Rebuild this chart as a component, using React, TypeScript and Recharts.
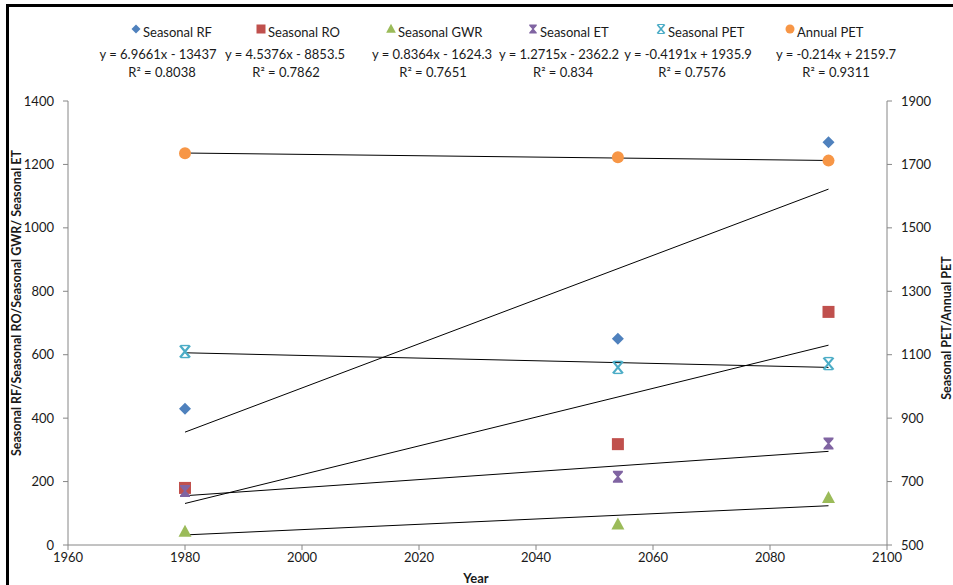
import React from "react";
import { ComposedChart, Line, Scatter, XAxis, YAxis } from "recharts";

// Period mid-years and the six series
const years = [1980, 2054, 2090];
const seasonalRF = [430, 650, 1270];
const seasonalRO = [180, 318, 735];
const seasonalGWR = [42, 65, 148];
const seasonalET = [170, 215, 320];
const seasonalPET = [1110, 1060, 1072];
const annualPET = [1735, 1723, 1712];

const seriesNames = [
  "Seasonal RF",
  "Seasonal RO",
  "Seasonal GWR",
  "Seasonal ET",
  "Seasonal PET",
  "Annual PET",
];
// Excel linear trendlines, as printed on the chart
const trendSlopes = [6.9661, 4.5376, 0.8364, 1.2715, -0.4191, -0.214];
const trendIntercepts = [-13437, -8853.5, -1624.3, -2362.2, 1935.9, 2159.7];
const equationLabels = [
  "y = 6.9661x - 13437",
  "y = 4.5376x - 8853.5",
  "y = 0.8364x - 1624.3",
  "y = 1.2715x - 2362.2",
  "y = -0.4191x + 1935.9",
  "y = -0.214x + 2159.7",
];
const r2Labels = ["0.8038", "0.7862", "0.7651", "0.834", "0.7576", "0.9311"];

const xTicks = [1960, 1980, 2000, 2020, 2040, 2060, 2080, 2100];
const leftTicks = [0, 200, 400, 600, 800, 1000, 1200, 1400];
const rightTicks = [500, 700, 900, 1100, 1300, 1500, 1700, 1900];

type MarkerKind = "diamond" | "square" | "triangle" | "hourglass" | "cross" | "circle";

const seriesValues = [seasonalRF, seasonalRO, seasonalGWR, seasonalET, seasonalPET, annualPET];
const seriesAxis = ["left", "left", "left", "left", "right", "right"];
const seriesColors = ["#4F81BD", "#C0504D", "#9BBB59", "#8064A2", "#4BACC6", "#F79646"];
const seriesMarkers: MarkerKind[] = ["diamond", "square", "triangle", "hourglass", "cross", "circle"];

// legend layout (px in the 953x585 frame)
const legendMarkerX = [136, 261, 391, 533, 661, 790];
const equationCenterX = [158, 285, 432, 559, 688, 836];
const r2CenterX = [162, 286, 433, 563, 692, 836];

const axisGrey = "#868686";
const textColor = "#1a1a1a";
const font = "Lato, 'Open Sans', sans-serif";

function Marker({ kind, cx, cy, color, s = 1 }: { kind: MarkerKind; cx: number; cy: number; color: string; s?: number }) {
  const p = (pts: number[][]) => pts.map(([x, y]) => `${cx + x * s},${cy + y * s}`).join(" ");
  switch (kind) {
    case "diamond":
      return <polygon points={p([[0, -6], [6, 0], [0, 6], [-6, 0]])} fill={color} />;
    case "square":
      return <rect x={cx - 6 * s} y={cy - 6 * s} width={12 * s} height={12 * s} fill={color} />;
    case "triangle":
      return <polygon points={p([[0, -7], [6.5, 5], [-6.5, 5]])} fill={color} />;
    case "hourglass":
      return (
        <polygon
          points={p([[-5, -6], [5, -6], [5, -4.5], [1, 0], [5, 4.5], [5, 6], [-5, 6], [-5, 4.5], [-1, 0], [-5, -4.5]])}
          fill={color}
        />
      );
    case "cross":
      return (
        <g stroke={color} strokeWidth={2.2 * s}>
          <line x1={cx - 5 * s} y1={cy - 6 * s} x2={cx + 5 * s} y2={cy + 6 * s} />
          <line x1={cx + 5 * s} y1={cy - 6 * s} x2={cx - 5 * s} y2={cy + 6 * s} />
          <line x1={cx - 4 * s} y1={cy - 6 * s} x2={cx + 4 * s} y2={cy - 6 * s} strokeWidth={1.4 * s} />
          <line x1={cx - 4 * s} y1={cy + 6 * s} x2={cx + 4 * s} y2={cy + 6 * s} strokeWidth={1.4 * s} />
        </g>
      );
    default:
      return <circle cx={cx} cy={cy} r={6 * s} fill={color} />;
  }
}

const legendText = {
  position: "absolute" as const,
  fontSize: 13,
  color: textColor,
  whiteSpace: "nowrap" as const,
  lineHeight: "16px",
};

function TopLegend() {
  return (
    <>
      {seriesNames.map((name, i) => (
        <React.Fragment key={name}>
          <svg
            width={14}
            height={14}
            style={{ position: "absolute", left: legendMarkerX[i] - 7, top: 22 }}
          >
            <Marker kind={seriesMarkers[i]} cx={7} cy={7} color={seriesColors[i]} s={0.75} />
          </svg>
          <div style={{ ...legendText, left: legendMarkerX[i] + 7, top: 24 }}>{name}</div>
          <div style={{ ...legendText, left: equationCenterX[i] - 80, width: 160, top: 46, textAlign: "center" }}>
            {equationLabels[i]}
          </div>
          <div style={{ ...legendText, left: r2CenterX[i] - 80, width: 160, top: 64, textAlign: "center" }}>
            {`R² = ${r2Labels[i]}`}
          </div>
        </React.Fragment>
      ))}
    </>
  );
}

const tickStyle = { fill: textColor, fontSize: 13, fontFamily: font };

export default function App() {
  const scatterData = seriesValues.map((vals) => years.map((x, i) => ({ x, y: vals[i] })));
  const firstYear = years[0];
  const lastYear = years[years.length - 1];
  const trendData = trendSlopes.map((m, i) => [
    { x: firstYear, y: m * firstYear + trendIntercepts[i] },
    { x: lastYear, y: m * lastYear + trendIntercepts[i] },
  ]);

  return (
    <div
      style={{
        position: "absolute",
        left: 0,
        top: 0,
        width: 953,
        height: 585,
        overflow: "hidden",
        background: "#fff",
        fontFamily: font,
      }}
    >
      <div
        style={{
          position: "absolute",
          left: 6,
          top: 4,
          width: 1000,
          height: 700,
          borderTop: "3px solid #000",
          borderLeft: "3px solid #000",
        }}
      />
      <TopLegend />
      <div style={{ position: "absolute", left: 0, top: 0 }}>
        <ComposedChart width={953} height={585} margin={{ top: 101, right: 16, bottom: 0, left: 0 }}>
          <XAxis
            type="number"
            dataKey="x"
            domain={[1960, 2100]}
            ticks={xTicks}
            allowDataOverflow
            height={40}
            stroke={axisGrey}
            tickSize={5}
            tickMargin={3}
            tick={tickStyle}
            label={() => (
              <text x={476} y={583} textAnchor="middle" fontSize={13} fontWeight="bold" fill={textColor} fontFamily={font}>
                Year
              </text>
            )}
          />
          <YAxis
            yAxisId="left"
            domain={[0, 1400]}
            ticks={leftTicks}
            allowDataOverflow
            width={68}
            stroke={axisGrey}
            tickSize={5}
            tickMargin={9}
            tick={tickStyle}
            label={() => (
              <text
                x={21}
                y={303}
                transform="rotate(-90, 21, 303)"
                textAnchor="middle"
                fontSize={12.5}
                fontWeight="bold"
                fill={textColor}
                fontFamily={font}
              >
                Seasonal RF/Seasonal RO/Seasonal GWR/ Seasonal ET
              </text>
            )}
          />
          <YAxis
            yAxisId="right"
            orientation="right"
            domain={[500, 1900]}
            ticks={rightTicks}
            allowDataOverflow
            width={50}
            stroke={axisGrey}
            tickSize={5}
            tickMargin={9}
            tick={tickStyle}
            label={() => (
              <text
                x={946}
                y={328}
                transform="rotate(-90, 946, 328)"
                textAnchor="middle"
                dominantBaseline="central"
                fontSize={12.5}
                fontWeight="bold"
                fill={textColor}
                fontFamily={font}
              >
                Seasonal PET/Annual PET
              </text>
            )}
          />
          {scatterData.map((pts, i) => (
            <Scatter
              key={seriesNames[i]}
              name={seriesNames[i]}
              data={pts}
              dataKey="y"
              yAxisId={seriesAxis[i]}
              isAnimationActive={false}
              shape={(props: { cx?: number; cy?: number }) => (
                <Marker kind={seriesMarkers[i]} cx={props.cx ?? 0} cy={props.cy ?? 0} color={seriesColors[i]} />
              )}
            />
          ))}
          {trendData.map((pts, i) => (
            <Line
              key={`trend-${seriesNames[i]}`}
              data={pts}
              dataKey="y"
              yAxisId={seriesAxis[i]}
              type="linear"
              stroke="#000"
              strokeWidth={1}
              dot={false}
              activeDot={false}
              legendType="none"
              isAnimationActive={false}
            />
          ))}
        </ComposedChart>
      </div>
    </div>
  );
}
